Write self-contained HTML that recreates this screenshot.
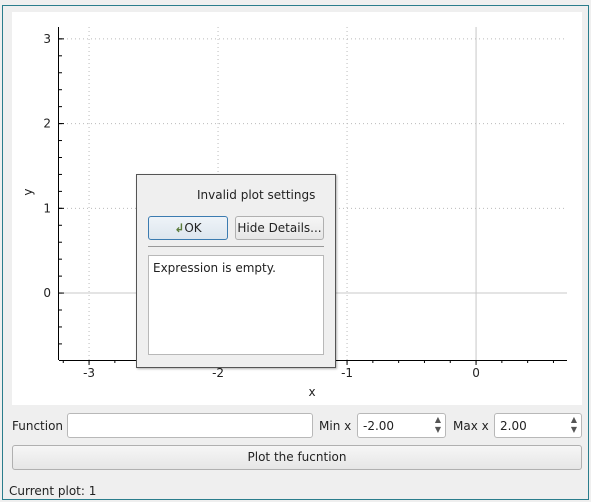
<!DOCTYPE html>
<html><head><meta charset="utf-8"><style>
body{margin:0;width:591px;height:502px;background:#efefef;font-family:"DejaVu Sans","Liberation Sans",sans-serif;font-size:12px;color:#222;position:relative;overflow:hidden}
.abs{position:absolute}
.inp{background:#fff;border:1px solid #b8b8b8;border-radius:3px;box-sizing:border-box}
.btn{background:linear-gradient(#f6f6f6,#e6e6e6);border:1px solid #b0b0b0;border-radius:3px;box-sizing:border-box;text-align:center}
</style></head><body>
<div class="abs" style="left:2px;top:5px;width:587px;height:495px;border:1px solid #2a7d8c;box-sizing:border-box"></div>
<svg class="abs" style="left:0;top:0;font-family:'DejaVu Sans',sans-serif" width="591" height="502">
<rect x="12" y="12" width="570" height="393" fill="#fff"/>
<g id="grid"></g><g id="axes"></g>
<text x="312" y="396" font-size="12" text-anchor="middle" fill="#222">x</text>
<text x="32" y="192" font-size="12" text-anchor="middle" fill="#222" transform="rotate(-90 32 192)">y</text>
</svg>
<div class="abs" style="left:136px;top:174px;width:200px;height:194px;background:#efefef;border:1px solid #555;box-sizing:border-box;box-shadow:1px 1px 2px rgba(0,0,0,.3)">
<div class="abs" style="left:60px;top:13px">Invalid plot settings</div>
<div class="abs btn" style="left:11px;top:41px;width:80px;height:24px;line-height:22px;border-color:#3b7bb0;background:linear-gradient(#eef3f8,#dde6ee)"><span style="color:#5a7a3a;font-weight:bold">&#x21B2;</span>OK</div>
<div class="abs btn" style="left:98px;top:41px;width:89px;height:24px;line-height:22px">Hide Details...</div>
<div class="abs" style="left:11px;top:71px;width:176px;height:1px;background:#999"></div>
<div class="abs inp" style="left:11px;top:80px;width:176px;height:100px;border-radius:0;padding:5px 4px">Expression is empty.</div>
</div>
<div class="abs" style="left:12px;top:419px">Function</div>
<div class="abs inp" style="left:67px;top:413px;width:246px;height:25px"></div>
<div class="abs" style="left:319px;top:419px">Min x</div>
<div class="abs inp" style="left:357px;top:413px;width:89px;height:25px;padding:5px 5px">-2.00<span style="position:absolute;right:4px;top:1px;font-size:8px;line-height:10px;color:#555">▲<br>▼</span></div>
<div class="abs" style="left:453px;top:419px">Max x</div>
<div class="abs inp" style="left:494px;top:413px;width:88px;height:25px;padding:5px 5px">2.00<span style="position:absolute;right:4px;top:1px;font-size:8px;line-height:10px;color:#555">▲<br>▼</span></div>
<div class="abs btn" style="left:12px;top:445px;width:570px;height:25px;line-height:23px">Plot the fucntion</div>
<div class="abs" style="left:9px;top:484px">Current plot: 1</div>
<script>
const xTicks=[-3,-2,-1,0];
const yTicks=[0,1,2,3];
const xDomain=[-3.233,0.705];
const yDomain=[-0.79,3.14];
const L=59,R=567,T=27,B=360;
const sx=v=>L+(v-xDomain[0])/(xDomain[1]-xDomain[0])*(R-L);
const sy=v=>B-(v-yDomain[0])/(yDomain[1]-yDomain[0])*(B-T);
const NS='http://www.w3.org/2000/svg';
const g=document.getElementById('grid'),a=document.getElementById('axes');
function mk(p,t,at){const e=document.createElementNS(NS,t);for(const k in at)e.setAttribute(k,at[k]);p.appendChild(e);return e;}
xTicks.forEach(v=>{const x=sx(v);
const l=mk(g,'line',{x1:x,x2:x,y1:T,y2:B,stroke:v===0?'#c8c8c8':'#bbb','stroke-dasharray':v===0?'':'1,3'});


const t=mk(a,'text',{x:x,y:B+17,'font-size':12,'text-anchor':'middle',fill:'#222'});t.textContent=v;


mk(a,'line',{x1:x,x2:x,y1:B,y2:B+5,stroke:'#000'});});
yTicks.forEach(v=>{const y=sy(v);
const l=mk(g,'line',{x1:L,x2:R,y1:y,y2:y,stroke:v===0?'#c8c8c8':'#bbb','stroke-dasharray':v===0?'':'1,3'});


const t=mk(a,'text',{x:L-8,y:y+4,'font-size':12,'text-anchor':'end',fill:'#222'});t.textContent=v;


mk(a,'line',{x1:L,x2:L+5,y1:y,y2:y,stroke:'#000'});});
for(let v=-3.2;v<=0.7;v+=0.2){const x=sx(v);mk(a,'line',{x1:x,x2:x,y1:B,y2:B+3,stroke:'#000'});}
for(let v=-0.6;v<=3.1;v+=0.2){const y=sy(v);mk(a,'line',{x1:L,x2:L+3,y1:y,y2:y,stroke:'#000'});}
const xa=mk(a,'line',{x1:L,x2:R,y1:B+0.5,y2:B+0.5,stroke:'#000'});


const ya=mk(a,'line',{x1:L-0.5,x2:L-0.5,y1:T,y2:B,stroke:'#000'});


</script>
</body></html>
